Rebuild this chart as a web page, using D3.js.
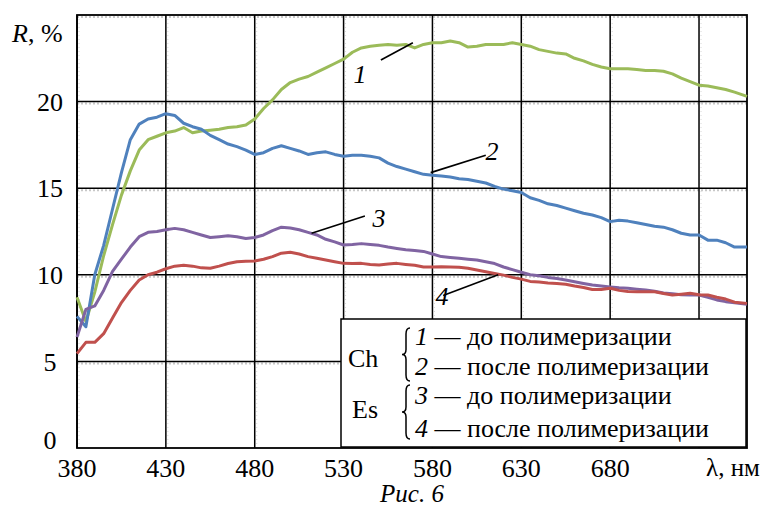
<!DOCTYPE html>
<html>
<head>
<meta charset="utf-8">
<script src="https://cdn.jsdelivr.net/npm/d3@7"></script>
<style>
  body { margin: 0; background: white; }
</style>
</head>
<body>
<div id="graf"></div>
<script>
// Datos
const longitudes = [380, 385, 390, 395, 400, 405, 410, 415, 420, 425, 430, 435, 440, 445, 450, 455, 460, 465, 470, 475,
  480, 485, 490, 495, 500, 505, 510, 515, 520, 525, 530, 535, 540, 545, 550, 555, 560, 565, 570, 575,
  580, 585, 590, 595, 600, 605, 610, 615, 620, 625, 630, 635, 640, 645, 650, 655, 660, 665, 670, 675,
  680, 685, 690, 695, 700, 705, 710, 715, 720, 725, 730, 735, 740, 745, 750, 757]

const chAntes = [8.7, 7.3, 9.0, 11.1, 12.9, 14.6, 16.0, 17.2, 17.8, 18.0, 18.2, 18.3, 18.5, 18.2, 18.3, 18.35, 18.4, 18.5, 18.55, 18.65,
  19.0, 19.6, 20.1, 20.7, 21.1, 21.3, 21.45, 21.7, 21.95, 22.2, 22.45, 22.85, 23.1, 23.2, 23.25, 23.3, 23.25, 23.3, 23.1, 23.3,
  23.4, 23.4, 23.5, 23.4, 23.15, 23.2, 23.3, 23.3, 23.3, 23.4, 23.3, 23.2, 23.0, 22.9, 22.8, 22.75, 22.5, 22.35, 22.15, 22.0,
  21.9, 21.9, 21.9, 21.85, 21.8, 21.8, 21.75, 21.6, 21.35, 21.15, 20.95, 20.9, 20.8, 20.7, 20.55, 20.3]

const chDespues = [7.6, 7.0, 10.0, 11.7, 13.8, 15.9, 17.8, 18.7, 19.0, 19.1, 19.3, 19.2, 18.75, 18.55, 18.4, 18.05, 17.8, 17.55, 17.4, 17.2,
  16.95, 17.05, 17.3, 17.45, 17.3, 17.15, 16.95, 17.05, 17.1, 16.95, 16.85, 16.9, 16.9, 16.85, 16.75, 16.45, 16.25, 16.1, 15.95, 15.8,
  15.75, 15.7, 15.65, 15.55, 15.5, 15.4, 15.3, 15.1, 14.95, 14.85, 14.75, 14.45, 14.3, 14.1, 14.0, 13.85, 13.7, 13.55, 13.45, 13.3,
  13.07, 13.15, 13.1, 13.0, 12.9, 12.8, 12.75, 12.6, 12.4, 12.3, 12.3, 12.0, 12.0, 11.85, 11.6, 11.6]

const esAntes = [6.4, 8.0, 8.2, 9.1, 10.2, 10.9, 11.6, 12.2, 12.45, 12.5, 12.6, 12.68, 12.6, 12.45, 12.3, 12.15, 12.2, 12.25, 12.2, 12.1,
  12.15, 12.3, 12.55, 12.75, 12.7, 12.6, 12.45, 12.3, 12.05, 11.9, 11.72, 11.75, 11.8, 11.75, 11.7, 11.6, 11.52, 11.45, 11.4, 11.35,
  11.2, 11.05, 11.0, 10.95, 10.9, 10.85, 10.75, 10.65, 10.45, 10.3, 10.15, 10.0, 9.95, 9.85, 9.78, 9.7, 9.6, 9.5, 9.41, 9.35,
  9.3, 9.25, 9.22, 9.17, 9.12, 9.05, 8.95, 8.9, 8.85, 8.83, 8.83, 8.7, 8.55, 8.45, 8.38, 8.3]

const esDespues = [5.45, 6.1, 6.1, 6.6, 7.5, 8.4, 9.1, 9.7, 10.0, 10.15, 10.35, 10.5, 10.55, 10.5, 10.4, 10.38, 10.5, 10.65, 10.75, 10.78,
  10.8, 10.9, 11.05, 11.25, 11.3, 11.2, 11.05, 10.95, 10.85, 10.75, 10.66, 10.65, 10.66, 10.6, 10.57, 10.62, 10.66, 10.6, 10.55, 10.45,
  10.45, 10.47, 10.45, 10.43, 10.38, 10.28, 10.18, 10.08, 9.98, 9.85, 9.75, 9.62, 9.58, 9.53, 9.5, 9.45, 9.35, 9.27, 9.15, 9.15,
  9.22, 9.1, 9.03, 9.02, 9.02, 9.02, 8.92, 8.83, 8.88, 8.93, 8.85, 8.83, 8.7, 8.6, 8.42, 8.35]

const xTicks = [380, 430, 480, 530, 580, 630, 680, 730]
const xEtiquetas = ['380', '430', '480', '530', '580', '630', '680']
const yTicks = [0, 5, 10, 15, 20]
const gruposLeyenda = ['Ch', 'Es']
const numeros = ['1', '2', '3', '4']
const textosLeyenda = ['до полимеризации', 'после полимеризации', 'до полимеризации', 'после полимеризации']

const series = [
  { id: '1', valores: chAntes, color: '#9bbb59' },
  { id: '2', valores: chDespues, color: '#4f81bd' },
  { id: '3', valores: esAntes, color: '#8064a2' },
  { id: '4', valores: esDespues, color: '#c0504d' }
]

// Dimensiones
const anchoTotal = 771
const altoTotal = 512
const margins = { top: 15, right: 24, bottom: 64, left: 77 }
const ancho = anchoTotal - margins.left - margins.right
const alto = altoTotal - margins.top - margins.bottom
const fuente = "'Liberation Serif', 'DejaVu Serif', serif"

const svg = d3.select('#graf').append('svg')
  .attr('width', anchoTotal)
  .attr('height', altoTotal)
  .attr('font-family', fuente)
  .style('font-family', fuente)

const g = svg.append('g')
  .attr('transform', `translate(${margins.left}, ${margins.top})`)

// Escaladores
const x = d3.scaleLinear().domain([380, 757]).range([0, ancho])
const y = d3.scaleLinear().domain([0, 25]).range([alto, 0])

// Rejilla
const sombra = g.append('g')
sombra.selectAll('line.h')
  .data(yTicks.filter(d => d > 0).concat([25]))
  .join('line')
  .attr('x1', 0).attr('x2', ancho)
  .attr('y1', d => y(d) + 2).attr('y2', d => y(d) + 2)
  .attr('stroke', '#c8c8c8').attr('stroke-width', 2).attr('stroke-dasharray', '2,2')
sombra.selectAll('line.v')
  .data(xTicks)
  .join('line')
  .attr('x1', d => x(d) + 2).attr('x2', d => x(d) + 2)
  .attr('y1', 0).attr('y2', alto)
  .attr('stroke', '#d8d8d8').attr('stroke-width', 1).attr('stroke-dasharray', '1,3')

const rejilla = g.append('g')
rejilla.selectAll('line.h')
  .data(yTicks.filter(d => d > 0))
  .join('line')
  .attr('x1', 0).attr('x2', ancho)
  .attr('y1', d => y(d)).attr('y2', d => y(d))
  .attr('stroke', 'black').attr('stroke-width', 1.5)
rejilla.selectAll('line.v')
  .data(xTicks)
  .join('line')
  .attr('x1', d => x(d)).attr('x2', d => x(d))
  .attr('y1', 0).attr('y2', alto)
  .attr('stroke', 'black').attr('stroke-width', 1.5)

// Marco
g.append('rect')
  .attr('width', ancho).attr('height', alto)
  .attr('fill', 'none').attr('stroke', 'black').attr('stroke-width', 1.8)

// Curvas
const linea = d3.line()
  .x((d, i) => x(longitudes[i]))
  .y(d => y(d))

g.selectAll('path.curva')
  .data(series)
  .join('path')
  .attr('class', 'curva')
  .attr('d', d => linea(d.valores))
  .attr('fill', 'none')
  .attr('stroke', d => d.color)
  .attr('stroke-width', 3)
  .attr('stroke-linejoin', 'round')

// Ejes (etiquetas)
const fs = 26
g.selectAll('text.yt')
  .data(yTicks)
  .join('text')
  .attr('x', -27)
  .attr('y', d => y(d) + (d === 0 ? -8 : 0))
  .attr('dy', '0.35em')
  .attr('text-anchor', 'middle')
  .style('font-size', fs + 'px')
  .text(d => d)

g.selectAll('text.xt')
  .data(xEtiquetas)
  .join('text')
  .attr('x', d => x(+d))
  .attr('y', alto + 29)
  .attr('text-anchor', 'middle')
  .style('font-size', fs + 'px')
  .text(d => d)

g.append('text')
  .attr('x', x(730) + 34)
  .attr('y', alto + 28)
  .attr('text-anchor', 'middle')
  .style('font-size', '25px')
  .text('λ, нм')

const ry = svg.append('text')
  .attr('x', 12).attr('y', 42)
  .style('font-size', fs + 'px')
ry.append('tspan').attr('font-style', 'italic').text('R')
ry.append('tspan').text(', %')

svg.append('text')
  .attr('font-style', 'italic')
  .attr('x', 412).attr('y', 502)
  .attr('text-anchor', 'middle')
  .style('font-size', '25px')
  .text('Рис. 6')

// Etiquetas de las curvas
const marcas = [
  { n: '1', tx: 360, ty: 83 },
  { n: '2', tx: 492, ty: 160 },
  { n: '3', tx: 379, ty: 227 },
  { n: '4', tx: 442, ty: 305 }
]
// líneas guía en coordenadas de datos
const guias = [
  [[551, 22.4], [569, 23.4]],
  [[579, 15.9], [610, 16.9]],
  [[512, 12.4], [542, 13.4]],
  [[586, 8.8], [617, 10.0]]
]
g.selectAll('line.guia')
  .data(guias)
  .join('line')
  .attr('x1', d => x(d[0][0])).attr('y1', d => y(d[0][1]))
  .attr('x2', d => x(d[1][0])).attr('y2', d => y(d[1][1]))
  .attr('stroke', 'black').attr('stroke-width', 1.6)

svg.selectAll('text.num')
  .data(marcas)
  .join('text')
  .attr('font-style', 'italic')
  .attr('x', d => d.tx).attr('y', d => d.ty)
  .attr('text-anchor', 'middle')
  .style('font-size', fs + 'px')
  .text(d => d.n)

// Leyenda
const ley = svg.append('g')
ley.append('rect')
  .attr('x', 341).attr('y', 319)
  .attr('width', 405).attr('height', 128)
  .attr('fill', 'white').attr('stroke', 'black').attr('stroke-width', 1.5)

ley.selectAll('text.grupo')
  .data(gruposLeyenda)
  .join('text')
  .attr('x', (d, i) => i ? 352 : 348)
  .attr('y', (d, i) => i ? 418 : 367)
  .style('font-size', fs + 'px')
  .text(d => d)

const llave = (bx, y0, y1) => {
  const w = 8, m = (y0 + y1) / 2, h = w / 2
  return `M${bx + w},${y0} Q${bx + h},${y0} ${bx + h},${y0 + 6} L${bx + h},${m - 5} Q${bx + h},${m} ${bx},${m}` +
    ` Q${bx + h},${m} ${bx + h},${m + 5} L${bx + h},${y1 - 6} Q${bx + h},${y1} ${bx + w},${y1}`
}
ley.selectAll('path.llave')
  .data([[328, 381], [385, 439]])
  .join('path')
  .attr('d', d => llave(402, d[0], d[1]))
  .attr('fill', 'none').attr('stroke', 'black').attr('stroke-width', 1.5)

const filasY = [345, 375, 404, 437]
const filas = ley.selectAll('text.fila')
  .data(numeros)
  .join('text')
  .attr('x', 415)
  .attr('y', (d, i) => filasY[i])
  .style('font-size', fs + 'px')
filas.append('tspan').attr('font-style', 'italic').text(d => d)
filas.append('tspan').text((d, i) => ' — ' + textosLeyenda[i])
</script>
</body>
</html>
